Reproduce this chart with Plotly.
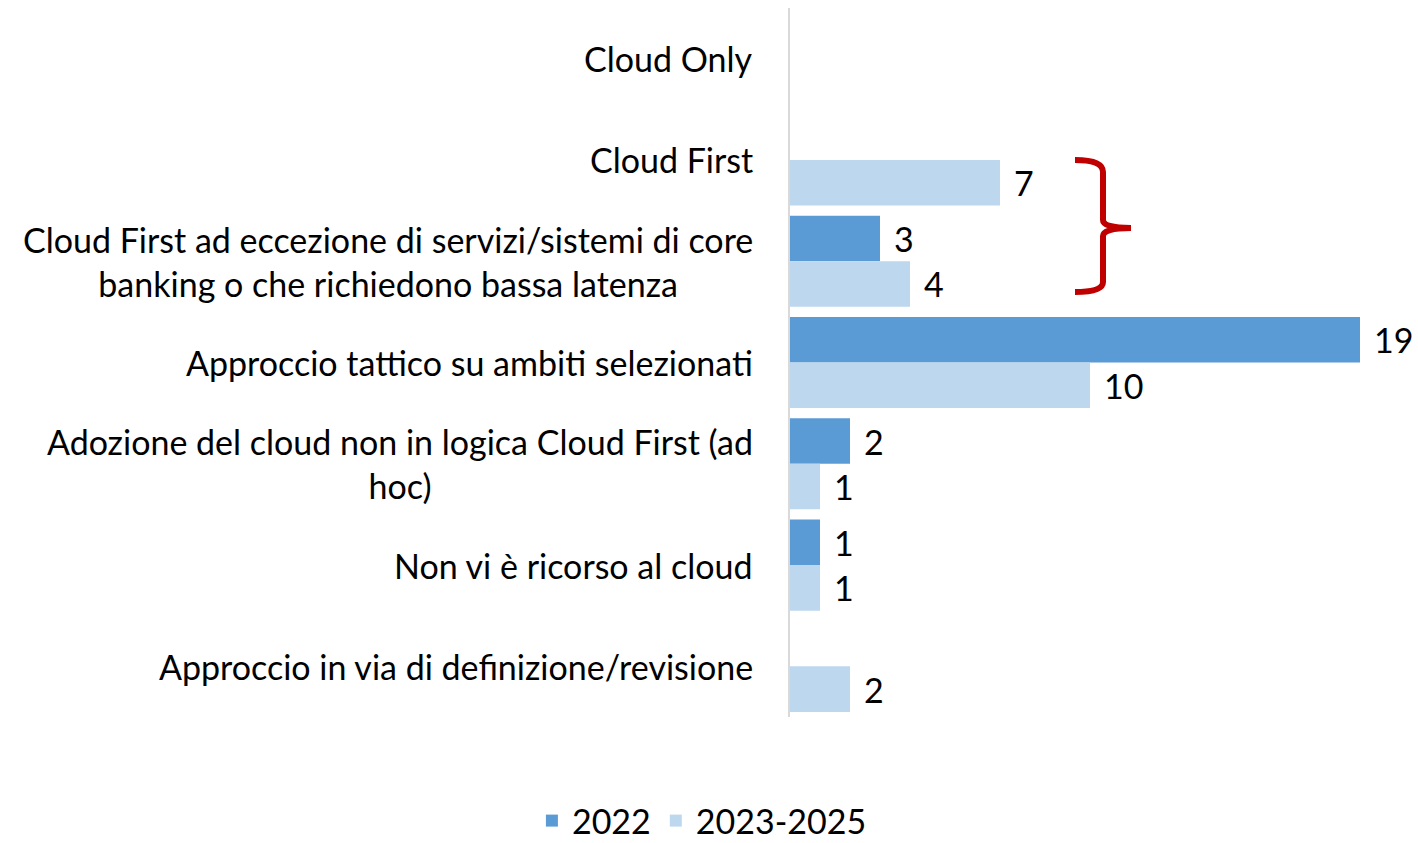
import plotly.graph_objects as go

categories = [
    "Cloud Only",
    "Cloud First",
    "Cloud First ad eccezione di servizi/sistemi di core<br>banking o che richiedono bassa latenza",
    "Approccio tattico su ambiti selezionati",
    "Adozione del cloud non in logica Cloud First (ad<br>hoc)",
    "Non vi è ricorso al cloud",
    "Approccio in via di definizione/revisione",
]
series_names = ["2022", "2023-2025"]
values_2022 = [0, 0, 3, 19, 2, 1, 0]
values_2023_2025 = [0, 7, 4, 10, 1, 1, 2]
colors = ["#5B9BD5", "#BDD7EE"]

W, H = 1418, 843
# plot area in page pixels
PL, PR, PT, PB = 790, 1390, 8, 717
FONT = "Lato"
FS = 34

fig = go.Figure()
for name, vals, col in zip(series_names, [values_2022, values_2023_2025], colors):
    fig.add_trace(go.Bar(
        y=categories, x=vals, name=name, orientation="h",
        marker=dict(color=col, line=dict(width=0)),
    ))

annotations = []
for c in categories:
    annotations.append(dict(
        x=0, xref="paper", y=c, yref="y", text=c, showarrow=False,
        xanchor="right", yanchor="middle", align="center", xshift=-35,
        font=dict(family=FONT, size=FS, color="#000000"),
    ))
band_px = (PB - PT) / len(categories)
bar_px = band_px * 0.9 / 2
for i, vals in enumerate([values_2022, values_2023_2025]):
    shift = bar_px / 2 if i == 0 else -bar_px / 2
    for c, v in zip(categories, vals):
        if v:
            annotations.append(dict(
                x=v, xref="x", y=c, yref="y", text=str(v), showarrow=False,
                xanchor="left", yanchor="middle", xshift=12, yshift=shift,
                font=dict(family=FONT, size=FS, color="#000000"),
            ))

def px2paper(X, Y):
    return (X - PL) / (PR - PL), (PB - Y) / (PB - PT)

pts = [("M", [(1075, 160)]), ("Q", [(1103, 160), (1103, 172)]), ("L", [(1103, 220)]),
       ("Q", [(1103, 228), (1131, 228)]), ("M", [(1131, 228)]), ("Q", [(1103, 228), (1103, 236)]),
       ("L", [(1103, 282)]), ("Q", [(1103, 292), (1075, 292)])]
path = ""
for cmd, ps in pts:
    path += cmd + " " + " ".join("%.5f,%.5f" % px2paper(X, Y) for X, Y in ps) + " "

fig.update_layout(
    width=W, height=H,
    margin=dict(l=PL, r=W - PR, t=PT, b=H - PB, pad=0),
    paper_bgcolor="white", plot_bgcolor="white",
    barmode="group", bargap=0.1, bargroupgap=0,
    font=dict(family=FONT, size=FS, color="#000000"),
    xaxis=dict(range=[0, 20], showgrid=False, zeroline=False, showticklabels=False,
               showline=False, ticks=""),
    yaxis=dict(autorange="reversed", showticklabels=False, showgrid=False, zeroline=False,
               showline=True, linecolor="#D9D9D9", linewidth=2, ticks=""),
    legend=dict(orientation="h", xref="container", yref="container", x=0.495,
                y=1 - 821 / H, xanchor="center", yanchor="middle",
                font=dict(family=FONT, size=FS), traceorder="normal"),
    annotations=annotations,
    shapes=[dict(type="path", path=path, xref="paper", yref="paper",
                 line=dict(color="#C00000", width=6))],
)
fig.write_html(
    "out.html",
    config={"displayModeBar": False},
    post_script="document.body.style.margin='0';document.body.style.overflow='hidden';",
)
